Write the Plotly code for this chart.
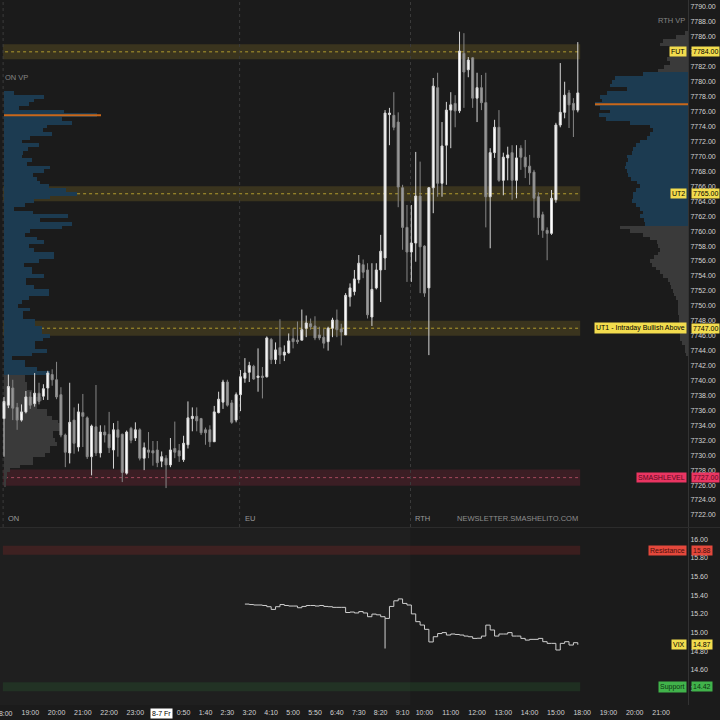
import plotly.graph_objects as go

# ---------------- price candles: 10-minute bars, bar 0 = 18:00 ----------------
opens = [7734.9, 7736.7, 7739.0, 7736.4, 7734.7, 7735.8, 7737.8, 7736.9, 7738.3, 7737.9,
         7739.0, 7740.8, 7740.1, 7738.1, 7732.7, 7730.3, 7734.7, 7731.1, 7735.7, 7735.0,
         7729.8, 7733.8, 7730.3, 7733.1, 7732.8, 7730.7, 7733.4, 7732.8, 7727.6, 7733.6,
         7732.3, 7733.4, 7729.6, 7730.7, 7730.6, 7730.7, 7729.2, 7729.6, 7728.7, 7730.9,
         7730.6, 7729.4, 7731.4, 7734.9, 7735.2, 7734.9, 7733.4, 7733.4, 7731.8, 7735.7,
         7737.1, 7739.8, 7737.0, 7734.7, 7738.1, 7740.3, 7741.1, 7741.9, 7740.4, 7740.6,
         7740.5, 7745.5, 7742.8, 7744.4, 7743.4, 7743.7, 7745.6, 7745.4, 7745.4, 7747.0,
         7747.6, 7747.3, 7746.1, 7745.8, 7745.2, 7747.0, 7748.1, 7746.9, 7746.1, 7751.2,
         7751.9, 7753.5, 7755.5, 7754.8, 7748.5, 7752.4, 7754.8, 7756.4, 7775.6, 7775.5,
         7774.6, 7765.8, 7760.5, 7757.2, 7758.4, 7764.7, 7758.0, 7752.4, 7765.8, 7779.2,
         7766.4, 7771.5, 7776.2, 7777.1, 7776.1, 7783.8, 7781.6, 7783.2, 7777.8, 7779.2,
         7777.2, 7764.6, 7770.5, 7773.9, 7766.8, 7769.8, 7770.5, 7766.8, 7771.1, 7769.9,
         7768.7, 7767.9, 7764.6, 7762.2, 7760.1, 7759.7, 7764.2, 7774.2, 7775.9, 7778.5,
         7777.1, 7776.2]
highs = [7737.8, 7740.8, 7740.1, 7737.0, 7736.8, 7738.6, 7738.5, 7741.0, 7739.7, 7739.5,
         7741.3, 7741.5, 7742.5, 7739.1, 7732.9, 7739.7, 7736.4, 7736.9, 7738.2, 7735.2,
         7734.1, 7739.4, 7734.0, 7734.0, 7735.8, 7734.3, 7734.6, 7732.9, 7733.3, 7733.8,
         7734.4, 7733.6, 7731.7, 7733.1, 7731.9, 7731.9, 7730.5, 7730.0, 7732.3, 7734.5,
         7731.5, 7732.6, 7737.2, 7736.4, 7736.4, 7735.0, 7733.7, 7734.0, 7736.6, 7738.5,
         7740.1, 7740.1, 7737.4, 7738.4, 7741.4, 7743.0, 7742.5, 7742.1, 7744.3, 7741.8,
         7745.9, 7745.7, 7745.1, 7748.2, 7744.7, 7746.3, 7747.0, 7747.9, 7749.5, 7748.7,
         7748.3, 7748.6, 7747.2, 7746.9, 7747.2, 7748.4, 7749.5, 7747.6, 7751.7, 7753.0,
         7754.8, 7756.8, 7756.2, 7755.7, 7755.7, 7755.7, 7759.5, 7776.2, 7776.5, 7778.6,
         7775.9, 7766.2, 7763.5, 7763.5, 7770.6, 7769.3, 7758.1, 7765.9, 7780.5, 7781.2,
         7774.6, 7777.3, 7778.6, 7778.2, 7786.7, 7786.5, 7783.3, 7783.3, 7781.2, 7780.9,
         7781.2, 7771.1, 7774.9, 7776.2, 7770.5, 7771.3, 7771.5, 7771.5, 7771.5, 7772.2,
         7770.2, 7768.2, 7765.2, 7762.6, 7760.5, 7765.5, 7774.5, 7782.5, 7780.0, 7778.9,
         7777.8, 7785.3]
lows = [7729.8, 7736.3, 7734.7, 7733.4, 7734.5, 7735.6, 7736.2, 7736.5, 7736.8, 7737.4,
        7737.4, 7739.3, 7737.5, 7732.4, 7728.4, 7728.9, 7730.2, 7730.5, 7731.1, 7729.5,
        7727.3, 7729.9, 7729.7, 7731.7, 7730.3, 7728.2, 7729.8, 7726.4, 7727.4, 7731.6,
        7731.9, 7729.3, 7728.0, 7729.6, 7728.6, 7728.4, 7728.4, 7725.6, 7728.4, 7729.6,
        7729.1, 7729.1, 7730.9, 7733.2, 7733.2, 7732.7, 7731.4, 7731.1, 7731.8, 7735.6,
        7736.2, 7736.5, 7734.2, 7734.4, 7735.9, 7739.7, 7739.8, 7740.1, 7738.5, 7737.6,
        7740.4, 7742.2, 7742.2, 7742.2, 7742.6, 7743.6, 7744.3, 7744.9, 7745.4, 7745.8,
        7746.8, 7745.4, 7745.4, 7744.3, 7744.0, 7745.8, 7745.8, 7744.7, 7746.1, 7749.9,
        7751.4, 7753.0, 7753.7, 7748.3, 7747.3, 7752.2, 7750.5, 7754.8, 7771.5, 7773.5,
        7763.2, 7757.5, 7753.2, 7753.2, 7755.9, 7751.7, 7751.2, 7743.4, 7762.4, 7764.6,
        7764.6, 7766.2, 7771.1, 7773.9, 7775.8, 7776.5, 7780.6, 7776.5, 7774.6, 7776.2,
        7760.5, 7757.7, 7769.8, 7766.6, 7764.8, 7766.8, 7764.2, 7764.4, 7768.2, 7767.1,
        7766.2, 7761.8, 7759.5, 7759.1, 7756.1, 7759.5, 7763.8, 7773.9, 7775.1, 7773.8,
        7772.6, 7775.9]
closes = [7737.2, 7739.2, 7736.3, 7734.7, 7735.8, 7737.8, 7736.7, 7738.3, 7737.2, 7738.9,
          7741.0, 7740.1, 7737.8, 7732.7, 7730.4, 7734.4, 7731.6, 7735.8, 7735.2, 7729.8,
          7733.9, 7730.3, 7733.1, 7732.7, 7731.0, 7733.4, 7732.4, 7727.7, 7733.1, 7732.0,
          7733.4, 7729.6, 7731.0, 7730.4, 7730.3, 7729.0, 7729.8, 7728.7, 7730.7, 7730.4,
          7729.9, 7731.6, 7735.0, 7735.2, 7734.6, 7733.0, 7733.0, 7731.8, 7735.8, 7737.5,
          7739.8, 7736.7, 7734.4, 7738.1, 7740.5, 7741.0, 7742.0, 7740.2, 7740.6, 7740.4,
          7745.7, 7742.8, 7744.1, 7743.4, 7743.8, 7745.3, 7745.2, 7745.2, 7746.8, 7747.7,
          7747.2, 7745.7, 7745.7, 7745.0, 7747.0, 7748.1, 7746.8, 7746.5, 7751.4, 7752.4,
          7753.6, 7755.7, 7754.5, 7748.8, 7752.2, 7754.8, 7757.3, 7775.8, 7775.8, 7773.9,
          7765.9, 7760.5, 7757.2, 7758.4, 7764.7, 7757.9, 7751.7, 7765.8, 7779.4, 7766.4,
          7771.4, 7776.2, 7776.9, 7776.1, 7784.1, 7781.3, 7782.9, 7777.8, 7779.2, 7777.2,
          7764.6, 7770.5, 7773.9, 7766.8, 7769.9, 7770.2, 7766.8, 7769.8, 7769.9, 7768.6,
          7767.8, 7764.4, 7761.8, 7760.1, 7759.7, 7764.4, 7774.2, 7775.9, 7778.2, 7776.9,
          7776.2, 7778.5]

# ---------------- volume profiles (0.5-point rows, listed top-down) ----------------
on_vp_top = 7778.5
on_vp_vol = [10, 40, 30, 25, 15, 60, 93, 58, 68, 43, 39, 48, 26, 18, 35, 24, 19, 18, 28, 23,
             46, 40, 29, 33, 36, 45, 62, 73, 46, 30, 21, 10, 29, 64, 36, 68, 58, 26, 21, 33,
             40, 25, 30, 50, 50, 35, 20, 28, 28, 40, 22, 22, 30, 45, 45, 25, 18, 14, 26, 19,
             19, 31, 31, 38, 38, 46, 39, 31, 31, 43, 28, 8, 21, 21, 33, 46, 21, 21, 23, 23,
             28, 28, 38, 33, 33, 43, 43, 48, 54, 56, 56, 49, 49, 51, 53, 46, 46, 41, 29, 29,
             16, 6, 3, 3, 2, 2]
on_va = (7741.0, 7778.5)

rth_vp_top = 7786.5
rth_vp_vol = [3, 12, 25, 28, 18, 15, 18, 21, 18, 24, 30, 45, 73, 76, 78, 61, 81, 88, 86, 93,
              88, 78, 89, 82, 58, 38, 35, 38, 41, 48, 52, 55, 56, 61, 60, 62, 63, 61, 60, 57,
              51, 48, 52, 55, 55, 56, 52, 48, 45, 48, 44, 43, 68, 58, 45, 38, 31, 30, 28, 30,
              34, 38, 36, 32, 28, 25, 20, 18, 17, 15, 14, 12, 10, 10, 10, 10, 9, 9, 9, 9,
              8, 8, 8, 6, 3, 3, 2]
rth_va = (7761.0, 7781.0)
vp_step = 0.5

# ---------------- VIX (from bar 55) ----------------
vix_start = 55
vix = [15.305, 15.30, 15.295, 15.295, 15.29, 15.277, 15.248, 15.277, 15.30, 15.29,
       15.284, 15.284, 15.266, 15.28, 15.29, 15.29, 15.284, 15.29, 15.28, 15.277,
       15.27, 15.27, 15.27, 15.215, 15.22, 15.21, 15.225, 15.21, 15.17, 15.198,
       15.19, 15.17, 15.152, 15.28, 15.34, 15.36, 15.312, 15.295, 15.20, 15.117,
       15.081, 15.035, 14.90, 14.956, 14.99, 15.00, 14.974, 14.985, 14.98, 14.974,
       14.963, 14.956, 14.938, 14.94, 14.963, 15.08, 15.028, 14.963, 14.985, 14.985,
       15.0, 14.963, 14.963, 14.938, 14.92, 14.928, 14.928, 14.938, 14.903, 14.885,
       14.885, 14.814, 14.885, 14.903, 14.867, 14.892, 14.87]
vix_spike_bars = [87]
vix_spike_vals = [14.83]
vix_last = 14.87

# ---------------- levels ----------------
level_names = ["FUT", "UT2", "UT1 - Intraday Bullish Above", "SMASHLEVEL"]
level_prices = [7784.0, 7765.0, 7747.0, 7727.0]
level_half = [1.0, 1.0, 1.0, 1.1]
vix_level_names = ["Resistance", "Support"]
vix_level_vals = [15.88, 14.42]
vix_level_half = 0.048

# ---------------- sessions & time axis ----------------
session_names = ["ON", "EU", "RTH"]
session_start = [0, 54, 93]
tick_bars = [0, 6, 12, 18, 24, 30, 36, 41, 46, 51, 56, 61, 66, 71, 76, 81, 86, 91, 96,
             102, 108, 114, 120, 126, 132, 138, 144, 150]
tick_text = ["18:00", "19:00", "20:00", "21:00", "22:00", "23:00", "8-7 Fr", "0:50", "1:40",
             "2:30", "3:20", "4:10", "5:00", "5:50", "6:40", "7:30", "8:20", "9:10", "10:00",
             "11:00", "12:00", "13:00", "14:00", "15:00", "18:00", "19:00", "20:00", "21:00"]
date_tick = "8-7 Fr"

# ---------------- style ----------------
BG = "#1b1b1b"
FONT = "Liberation Sans, Arial, sans-serif"
TXT = "#d2d2d2"
X_RANGE = [-0.91, 156.16]
Y_TOP = [7720.39, 7790.94]
Y_BOT = [14.226, 16.118]
TOP_DOM = [0.2525, 1.0]
BOT_DOM = [0.0, 0.251]
VA_BLUE = "#1c3b51"
VP_GRAY = "#3a3a3a"
POC = "#c8671a"

n = len(closes)
bars = list(range(n))
band_x0, band_x1 = -0.25, n - 0.45

fig = go.Figure()

# session separators (main subplot)
sx, sy = [], []
for b in session_start:
    sx += [b - 0.2, b - 0.2, None]
    sy += [Y_TOP[0], Y_TOP[1], None]
fig.add_trace(go.Scatter(x=sx, y=sy, mode="lines", xaxis="x", yaxis="y",
                         line=dict(color="#3c3c3c", width=1, dash="dot"), hoverinfo="skip"))

# ON volume profile
on_prices = [on_vp_top - vp_step * i for i in range(len(on_vp_vol))]
on_cols = [VA_BLUE if on_va[0] <= p <= on_va[1] else VP_GRAY for p in on_prices]
fig.add_trace(go.Bar(x=on_vp_vol, y=on_prices, orientation="h", width=vp_step,
                     marker=dict(color=on_cols, line=dict(width=0)), xaxis="x2", yaxis="y",
                     hoverinfo="skip"))
# RTH volume profile
rth_prices = [rth_vp_top - vp_step * i for i in range(len(rth_vp_vol))]
rth_cols = [VA_BLUE if rth_va[0] <= p <= rth_va[1] else VP_GRAY for p in rth_prices]
fig.add_trace(go.Bar(x=rth_vp_vol, y=rth_prices, orientation="h", width=vp_step,
                     marker=dict(color=rth_cols, line=dict(width=0)), xaxis="x3", yaxis="y",
                     hoverinfo="skip"))

# candles
fig.add_trace(go.Candlestick(x=bars, open=opens, high=highs, low=lows, close=closes,
                             xaxis="x4", yaxis="y", whiskerwidth=0,
                             increasing=dict(line=dict(color="#d6d6d6", width=1), fillcolor="#ffffff"),
                             decreasing=dict(line=dict(color="#878787", width=1), fillcolor="#9c9c9c"),
                             hoverinfo="skip"))

# VIX
vix_x = [vix_start + i for i in range(len(vix))]
fig.add_trace(go.Scatter(x=vix_x, y=vix, mode="lines", xaxis="x", yaxis="y2",
                         line=dict(color="#cfcfcf", width=1, shape="hv"), hoverinfo="skip"))
spx, spy = [], []
for b, v in zip(vix_spike_bars, vix_spike_vals):
    spx += [b, b, None]
    spy += [vix[b - vix_start], v, None]
fig.add_trace(go.Scatter(x=spx, y=spy, mode="lines", xaxis="x", yaxis="y2",
                         line=dict(color="#cfcfcf", width=1), hoverinfo="skip"))

shapes = []
# lighter pre-RTH background in lower panel
shapes.append(dict(type="rect", xref="x", yref="y2", x0=X_RANGE[0], x1=session_start[2] - 0.2,
                   y0=Y_BOT[0], y1=Y_BOT[1], fillcolor="#1f1f1f", line=dict(width=0), layer="below"))

band_fill = ["rgba(140,120,40,0.28)"] * 3 + ["rgba(150,40,62,0.26)"]
band_line = ["#b09a2e"] * 3 + ["#a3485c"]
for p, h, fc, lc in zip(level_prices, level_half, band_fill, band_line):
    shapes.append(dict(type="rect", xref="x", yref="y", x0=band_x0, x1=band_x1, y0=p - h, y1=p + h,
                       fillcolor=fc, line=dict(width=0), layer="below"))
    shapes.append(dict(type="line", xref="x", yref="y", x0=band_x0 + 0.5, x1=band_x1, y0=p, y1=p,
                       line=dict(color=lc, width=1, dash="dot"), layer="below"))
vband_fill = ["rgba(150,40,40,0.26)", "rgba(45,120,55,0.22)"]
for v, fc in zip(vix_level_vals, vband_fill):
    shapes.append(dict(type="rect", xref="x", yref="y2", x0=band_x0, x1=band_x1,
                       y0=v - vix_level_half, y1=v + vix_level_half,
                       fillcolor=fc, line=dict(width=0), layer="below"))

# POC lines
on_poc = on_prices[on_vp_vol.index(max(on_vp_vol))]
rth_poc = rth_prices[rth_vp_vol.index(max(rth_vp_vol))]
shapes.append(dict(type="line", xref="x2", yref="y", x0=0, x1=max(on_vp_vol) + 4, y0=on_poc, y1=on_poc,
                   line=dict(color=POC, width=2)))
shapes.append(dict(type="line", xref="x3", yref="y", x0=0, x1=max(rth_vp_vol), y0=rth_poc, y1=rth_poc,
                   line=dict(color=POC, width=2)))
# panel separator
shapes.append(dict(type="line", xref="paper", yref="paper", x0=0, x1=1.05, y0=TOP_DOM[0] - 0.0008,
                   y1=TOP_DOM[0] - 0.0008, line=dict(color="#2e2e2e", width=1)))

ann = []


def tag(text, y, yref, bg, fg, side):
    return dict(text=text, x=1, xref="paper", y=y, yref=yref, showarrow=False,
                xanchor="right" if side == "name" else "left",
                xshift=-1 if side == "name" else 3, bgcolor=bg, borderpad=1,
                font=dict(family=FONT, size=7, color=fg))


lvl_bg = ["#f2dc4e"] * 3 + ["#ea3562"]
lvl_fg = ["#000000"] * 3 + ["#5a0a1e"]
for name, p, bg, fg in zip(level_names, level_prices, lvl_bg, lvl_fg):
    ann.append(tag(name, p, "y", bg, fg, "name"))
    ann.append(tag(f"{p:.2f}", p, "y", bg, fg, "value"))
vlvl_bg = ["#e4483c", "#41b34b"]
vlvl_fg = ["#4a0f0b", "#0d3311"]
for name, v, bg, fg in zip(vix_level_names, vix_level_vals, vlvl_bg, vlvl_fg):
    ann.append(tag(name, v, "y2", bg, fg, "name"))
    ann.append(tag(f"{v:.2f}", v, "y2", bg, fg, "value"))
ann.append(tag("VIX", vix_last, "y2", "#f2dc4e", "#000000", "name"))
ann.append(tag(f"{vix_last:.2f}", vix_last, "y2", "#f2dc4e", "#000000", "value"))

# profile titles
ann.append(dict(text="RTH VP", x=1, xref="paper", y=Y_TOP[1], yref="y", yanchor="top", yshift=-14,
                xanchor="right", xshift=-1, showarrow=False, font=dict(family=FONT, size=7.5, color="#858585")))
ann.append(dict(text="ON VP", x=0, xref="paper", y=on_vp_top + 2.0, yref="y", yanchor="middle",
                xanchor="left", xshift=3, showarrow=False, font=dict(family=FONT, size=7.5, color="#858585")))
# session labels
for nm, b in zip(session_names, session_start):
    ann.append(dict(text=nm, x=b - 0.2, xref="x", y=TOP_DOM[0], yref="paper", yanchor="bottom", yshift=2,
                    xanchor="left", xshift=3, showarrow=False,
                    font=dict(family=FONT, size=7.5, color="#9a9a9a")))
ann.append(dict(text="NEWSLETTER.SMASHELITO.COM", x=band_x1, xref="x", y=TOP_DOM[0], yref="paper",
                yanchor="bottom", yshift=2, xanchor="right", showarrow=False,
                font=dict(family=FONT, size=7.5, color="#8e8e8e")))
# date marker on the time axis
di = tick_text.index(date_tick)
ann.append(dict(text=date_tick, x=tick_bars[di], xref="x", y=0, yref="paper", yanchor="top", yshift=-3,
                showarrow=False, bgcolor="#ffffff", borderpad=1,
                font=dict(family=FONT, size=7, color="#000000")))
# first (edge-clipped) time label
ann.append(dict(text=tick_text[0], x=tick_bars[0], xref="x", y=0, yref="paper", yanchor="top", yshift=-3,
                showarrow=False, font=dict(family=FONT, size=7, color=TXT)))
shown_text = ["" if (t == date_tick or i == 0) else t for i, t in enumerate(tick_text)]

fig.update_layout(
    width=720, height=720, margin=dict(l=0, r=32, t=0, b=15),
    paper_bgcolor=BG, plot_bgcolor=BG, showlegend=False, bargap=0, boxgap=0.35,
    font=dict(family=FONT, size=7, color=TXT),
    shapes=shapes, annotations=ann,
    xaxis=dict(range=X_RANGE, anchor="y2", domain=[0, 1], tickvals=tick_bars, ticktext=shown_text,
               showgrid=False, zeroline=False, showline=False, ticks="", ticklabelstandoff=2,
               tickfont=dict(family=FONT, size=7, color=TXT), rangeslider=dict(visible=False)),
    xaxis2=dict(overlaying="x", anchor="y", range=[-4, 684], visible=False),
    xaxis3=dict(overlaying="x", anchor="y", range=[688, 0], visible=False),
    xaxis4=dict(overlaying="x", anchor="y", range=X_RANGE, visible=False, rangeslider=dict(visible=False)),
    yaxis=dict(domain=TOP_DOM, range=Y_TOP, side="right", tick0=7722, dtick=2, tickformat=".2f",
               showgrid=False, zeroline=False, showline=True, linecolor="#333333", ticks="",
               tickfont=dict(family=FONT, size=7, color=TXT)),
    yaxis2=dict(domain=BOT_DOM, range=Y_BOT, side="right", tick0=14.4, dtick=0.2, tickformat=".2f",
                showgrid=False, zeroline=False, showline=True, linecolor="#333333", ticks="",
                tickfont=dict(family=FONT, size=7, color=TXT)),
)

fig.write_html("out.html", config={"displayModeBar": False},
               post_script="document.body.style.margin='0';document.body.style.padding='0';"
                           "document.body.style.background='#1b1b1b';document.body.style.overflow='hidden';")
